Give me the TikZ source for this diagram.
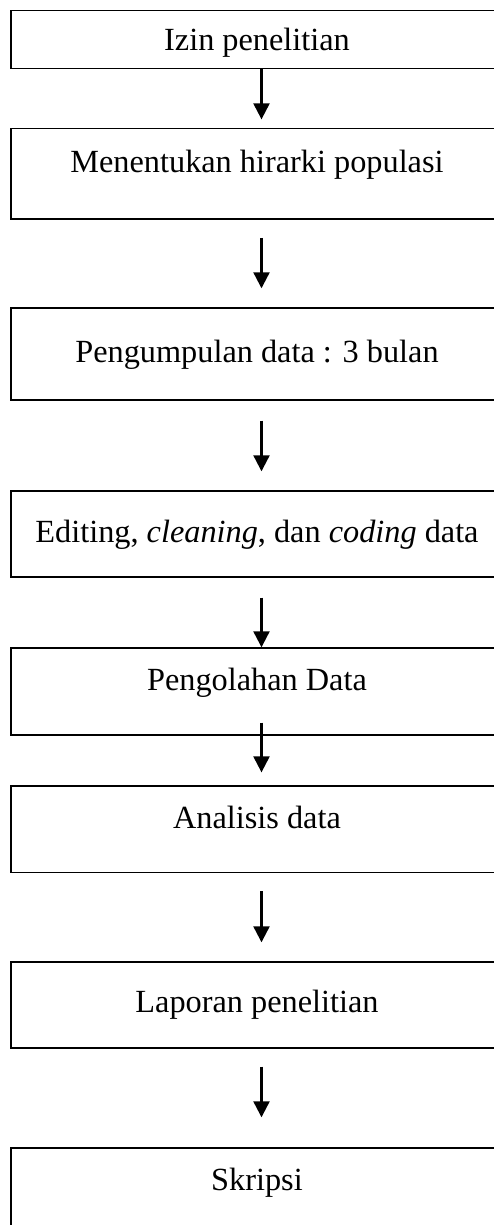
\documentclass[tikz,border=0pt]{standalone}
\usepackage{fontspec}
\setmainfont{Liberation Serif}
\usetikzlibrary{arrows.meta}

\tikzset{
  flowbox/.style={draw, line width=1.4pt, minimum width=492pt, inner sep=0pt,
    text height=22pt, text depth=24pt, font=\fontsize{32.3pt}{39pt}\selectfont},
  flowarrow/.style={line width=2.2pt, -{Triangle[width=16pt,length=16pt]}}
}

\begin{document}
\begin{tikzpicture}[x=1pt,y=-1pt]
\useasboundingbox (0,0) rectangle (494,1225);
\clip (0,0) rectangle (494,1225);

\node[flowbox, minimum height=57.8, text depth=0pt] (izin) at (257,39.6) {Izin penelitian};
\node[flowbox, minimum height=90.3] (hirarki) at (257,173.9) {Menentukan hirarki populasi};
\node[flowbox, minimum height=92, text depth=6pt] (kumpul) at (257,354) {Pengumpulan data : 3 bulan};
\node[flowbox, minimum height=86, text depth=6pt] (edit) at (257,534) {Editing, \textit{cleaning}, dan \textit{coding} data};
\node[flowbox, minimum height=87] (olah) at (257,691.5) {Pengolahan Data};
\node[flowbox, minimum height=86.7] (analisis) at (257,829.4) {Analisis data};
\node[flowbox, minimum height=86, text depth=8pt] (laporan) at (257,1005) {Laporan penelitian};
\node[flowbox, minimum height=87] (skripsi) at (257,1191.5) {Skripsi};

\draw[flowarrow, shorten >=8.7pt] ([xshift=4.5pt]izin.south) -- ([xshift=4.5pt]hirarki.north);
\draw[flowarrow, shorten <=18pt, shorten >=19pt] ([xshift=4.5pt]hirarki.south) -- ([xshift=4.5pt]kumpul.north);
\draw[flowarrow, shorten <=20pt, shorten >=19pt] ([xshift=4.5pt]kumpul.south) -- ([xshift=4.5pt]edit.north);
\draw[flowarrow, shorten <=20pt] ([xshift=4.5pt]edit.south) -- ([xshift=4.5pt]olah.north);
\draw[flowarrow, shorten <=-13pt, shorten >=13pt] ([xshift=4.5pt]olah.south) -- ([xshift=4.5pt]analisis.north);
\draw[flowarrow, shorten <=18pt, shorten >=19pt] ([xshift=4.5pt]analisis.south) -- ([xshift=4.5pt]laporan.north);
\draw[flowarrow, shorten <=18pt, shorten >=30pt] ([xshift=4.5pt]laporan.south) -- ([xshift=4.5pt]skripsi.north);
\end{tikzpicture}
\end{document}
